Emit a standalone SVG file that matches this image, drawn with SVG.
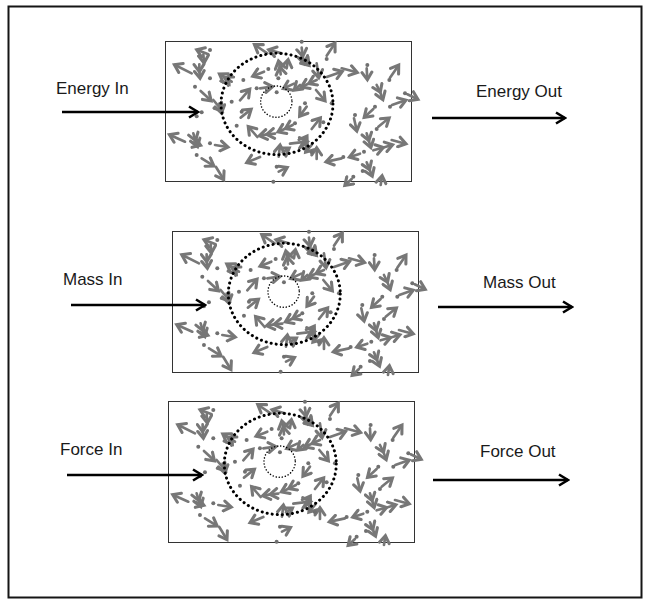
<svg xmlns="http://www.w3.org/2000/svg" width="652" height="607" viewBox="0 0 652 607">
<style>
.lbl{font-family:"Liberation Sans",Arial,sans-serif;font-size:17px;fill:#1a1a1a}
.box{fill:none;stroke:#333;stroke-width:1}
.conn{stroke:#000;stroke-width:2.6;fill:none;marker-end:url(#blk)}
.p{fill:none;stroke:#777;stroke-width:8;stroke-linecap:round;marker-end:url(#g)}
.d{marker-mid:url(#g)}
.dot{fill:#707070}
.big{fill:none;stroke:#000;stroke-width:9;stroke-linecap:round;stroke-dasharray:0.3 15}
.small{fill:none;stroke:#000;stroke-width:4.5;stroke-linecap:round;stroke-dasharray:0.3 9}
</style>
<defs>
<marker id="g" viewBox="0 0 10 10" markerWidth="5" markerHeight="5" refX="7" refY="5" orient="auto" markerUnits="strokeWidth">
<path d="M2,1.3 L7.5,5 L2,8.7" fill="none" stroke="#777" stroke-width="2.3" stroke-linecap="round"/>
</marker>
<marker id="blk" viewBox="0 0 14 14" markerWidth="14" markerHeight="14" refX="12" refY="7" orient="auto" markerUnits="userSpaceOnUse">
<path d="M3,1.5 L12,7 L3,12.5" fill="none" stroke="#000" stroke-width="2.6"/>
</marker>
<filter id="soft" x="-5%" y="-5%" width="110%" height="110%"><feGaussianBlur stdDeviation="1.6"/></filter>
<g id="particles">
<g filter="url(#soft)">
<path class="p" d="M145 58 L112 45"/>
<path class="p" d="M130 58 L132 82"/>
<path class="p" d="M95 115 L45 90"/>
<path class="p d" d="M118 88 L118 108 L120 128"/>
<path class="p" d="M122 168 L152 196"/>
<path class="p d" d="M215 140 L196 128 L180 118"/>
<path class="p" d="M190 124 L206 146"/>
<path class="p" d="M160 195 L186 226"/>
<path class="p" d="M178 206 L184 232"/>
<path class="p" d="M75 320 L30 300"/>
<path class="p d" d="M100 295 L106 315 L112 333"/>
<path class="p" d="M98 322 L120 330"/>
<path class="p" d="M165 330 L202 336"/>
<path class="p" d="M125 370 L160 392"/>
<path class="p" d="M168 396 L190 432"/>
<path class="p" d="M322 55 L285 30"/>
<path class="p" d="M365 55 L328 45"/>
<path class="p d" d="M425 38 L428 62 L432 84"/>
<path class="p" d="M430 72 L446 90"/>
<path class="p" d="M500 62 L524 26"/>
<path class="p d" d="M362 118 L360 98 L356 80"/>
<path class="p" d="M380 100 L384 76"/>
<path class="p" d="M312 110 L280 123"/>
<path class="p" d="M470 85 L476 126"/>
<path class="p d" d="M470 135 L448 145 L426 155"/>
<path class="p" d="M402 146 L372 160"/>
<path class="p" d="M420 150 L404 164"/>
<path class="p" d="M300 160 L336 155"/>
<path class="p" d="M240 196 L268 164"/>
<path class="p" d="M242 248 L272 224"/>
<path class="p" d="M468 165 L494 196"/>
<path class="p" d="M440 215 L420 242"/>
<path class="p" d="M455 282 L480 250"/>
<path class="p d" d="M398 270 L378 280 L356 290"/>
<path class="p d" d="M345 296 L322 298 L300 302"/>
<path class="p" d="M292 306 L266 276"/>
<path class="p" d="M390 326 L440 320"/>
<path class="p" d="M418 340 L440 305"/>
<path class="p" d="M455 330 L438 350"/>
<path class="p" d="M470 372 L470 340"/>
<path class="p" d="M356 365 L360 332"/>
<path class="p" d="M368 352 L386 340"/>
<path class="p" d="M300 366 L262 382"/>
<path class="p" d="M356 410 L380 398"/>
<path class="p" d="M500 126 L545 110"/>
<path class="p" d="M545 100 L590 112"/>
<path class="p" d="M620 100 L622 132"/>
<path class="p" d="M690 128 L715 92"/>
<path class="p d" d="M650 150 L660 170 L668 192"/>
<path class="p" d="M742 178 L772 192"/>
<path class="p" d="M696 210 L736 196"/>
<path class="p" d="M640 222 L614 246"/>
<path class="p" d="M582 250 L590 286"/>
<path class="p" d="M655 275 L686 250"/>
<path class="p d" d="M620 295 L626 315 L632 336"/>
<path class="p" d="M695 315 L736 326"/>
<path class="p d" d="M640 346 L668 338 L696 330"/>
<path class="p" d="M600 356 L570 366"/>
<path class="p" d="M545 370 L500 380"/>
<path class="p d" d="M620 382 L628 402 L636 422"/>
<path class="p" d="M575 432 L556 450"/>
<path class="p" d="M662 450 L666 424"/>
<circle class="dot" cx="150" cy="45" r="6"/>
<circle class="dot" cx="105" cy="155" r="6"/>
<circle class="dot" cx="150" cy="130" r="6"/>
<circle class="dot" cx="125" cy="232" r="6"/>
<circle class="dot" cx="110" cy="244" r="6"/>
<circle class="dot" cx="150" cy="325" r="6"/>
<circle class="dot" cx="110" cy="360" r="6"/>
<circle class="dot" cx="425" cy="20" r="6"/>
<circle class="dot" cx="500" cy="72" r="6"/>
<circle class="dot" cx="325" cy="102" r="6"/>
<circle class="dot" cx="250" cy="135" r="6"/>
<circle class="dot" cx="355" cy="130" r="6"/>
<circle class="dot" cx="290" cy="160" r="6"/>
<circle class="dot" cx="215" cy="200" r="6"/>
<circle class="dot" cx="245" cy="230" r="6"/>
<circle class="dot" cx="350" cy="172" r="6"/>
<circle class="dot" cx="435" cy="205" r="6"/>
<circle class="dot" cx="490" cy="262" r="6"/>
<circle class="dot" cx="405" cy="265" r="6"/>
<circle class="dot" cx="230" cy="272" r="6"/>
<circle class="dot" cx="455" cy="352" r="6"/>
<circle class="dot" cx="350" cy="395" r="6"/>
<circle class="dot" cx="340" cy="440" r="6"/>
<circle class="dot" cx="515" cy="205" r="6"/>
<circle class="dot" cx="622" cy="90" r="6"/>
<circle class="dot" cx="688" cy="135" r="6"/>
<circle class="dot" cx="735" cy="175" r="6"/>
<circle class="dot" cx="690" cy="215" r="6"/>
<circle class="dot" cx="645" cy="215" r="6"/>
<circle class="dot" cx="585" cy="240" r="6"/>
<circle class="dot" cx="650" cy="282" r="6"/>
<circle class="dot" cx="612" cy="350" r="6"/>
<circle class="dot" cx="550" cy="366" r="6"/>
<circle class="dot" cx="580" cy="425" r="6"/>
<circle class="dot" cx="608" cy="408" r="6"/>
</g>
<ellipse class="big" cx="351" cy="207" rx="168" ry="152"/>
<circle class="small" cx="349" cy="200" r="47"/>
</g>
</defs>

<rect x="8.5" y="6.5" width="633" height="591" fill="#fff" stroke="#151515" stroke-width="2"/>

<g id="box-energy">
<rect class="box" x="165.5" y="41.5" width="246" height="140"/>
<use href="#particles" transform="translate(160,35) scale(0.33333)"/>
</g>
<g id="box-mass">
<rect class="box" x="172.5" y="231.5" width="246" height="141"/>
<use href="#particles" transform="translate(167.3,225) scale(0.33333)"/>
</g>
<g id="box-force">
<rect class="box" x="168.5" y="401.5" width="246" height="141"/>
<use href="#particles" transform="translate(163.3,395) scale(0.33333)"/>
</g>

<g id="label-energy-in"><text class="lbl" x="56" y="94">Energy In</text></g>
<g id="label-energy-out"><text class="lbl" x="476" y="97">Energy Out</text></g>
<g id="label-mass-in"><text class="lbl" x="63" y="285">Mass In</text></g>
<g id="label-mass-out"><text class="lbl" x="483" y="288">Mass Out</text></g>
<g id="label-force-in"><text class="lbl" x="60" y="455">Force In</text></g>
<g id="label-force-out"><text class="lbl" x="480" y="457">Force Out</text></g>

<g id="connectors">
<line class="conn" x1="62" y1="112" x2="198" y2="112"/>
<line class="conn" x1="432" y1="118" x2="565" y2="118"/>
<line class="conn" x1="71" y1="305" x2="205" y2="305"/>
<line class="conn" x1="438" y1="307" x2="572" y2="307"/>
<line class="conn" x1="67" y1="475" x2="202" y2="475"/>
<line class="conn" x1="433" y1="480" x2="568" y2="480"/>
</g>
</svg>
